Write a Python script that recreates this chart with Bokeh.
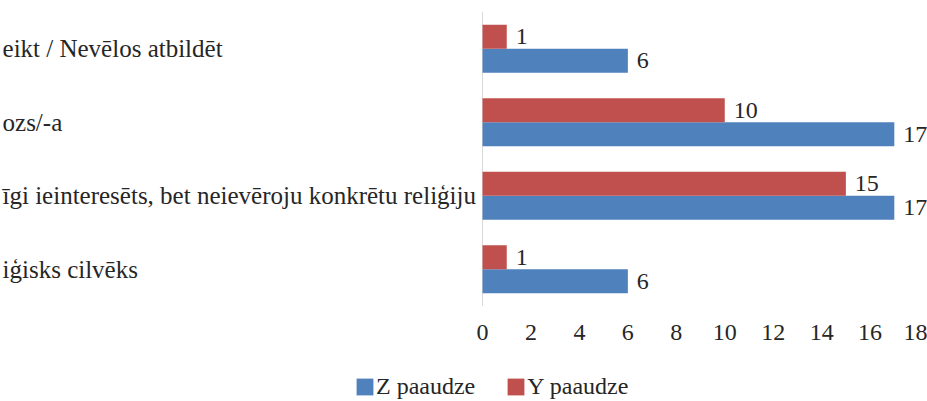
from bokeh.plotting import figure
from bokeh.layouts import column
from bokeh.models import ColumnDataSource, FactorRange, FixedTicker, Legend, LegendItem, LinearAxis, Range1d
from bokeh.transform import dodge
from bokeh.core.properties import value
from bokeh.embed import file_html
from bokeh.resources import INLINE

# Survey answers (bottom to top), as far as they are visible beside the bars
categories = [
    "iģisks cilvēks",
    "īgi ieinteresēts, bet neievēroju konkrētu reliģiju",
    "ozs/-a",
    "eikt / Nevēlos atbildēt",
]
z_counts = [6, 17, 17, 6]   # Z paaudze
y_counts = [1, 15, 10, 1]   # Y paaudze
x_ticks = [0, 2, 4, 6, 8, 10, 12, 14, 16, 18]
series_names = ["Z paaudze", "Y paaudze"]

FONT = "Liberation Serif"
BLUE = "#4F81BD"
RED = "#C0504D"
TEXT = "#262626"

src = ColumnDataSource(dict(
    cat=categories,
    z=z_counts,
    y=y_counts,
    z_lbl=[str(v) for v in z_counts],
    y_lbl=[str(v) for v in y_counts],
))

p = figure(
    width=927, frame_width=927, frame_height=317,
    x_range=Range1d(-19.9, 18.37),
    y_range=FactorRange(factors=categories, range_padding=0.155, range_padding_units="absolute"),
    output_backend="svg", toolbar_location=None,
    x_axis_location=None, y_axis_location=None,
    min_border=0, min_border_bottom=45, outline_line_color=None,
    background_fill_color="white", border_fill_color="white",
)
p.xgrid.visible = False
p.ygrid.visible = False

# value axis with ticks 0..18
xaxis = LinearAxis(ticker=FixedTicker(ticks=x_ticks))
xaxis.axis_line_color = None
xaxis.major_tick_line_color = None
xaxis.minor_tick_line_color = None
xaxis.major_tick_out = 0
xaxis.minor_tick_out = 0
xaxis.major_label_standoff = 7
xaxis.major_label_text_font = FONT
xaxis.major_label_text_font_size = "24px"
xaxis.major_label_text_color = TEXT
p.add_layout(xaxis, "below")

# thin category axis line at zero
line_src = ColumnDataSource(dict(lo=[categories[0]], hi=[categories[-1]]))
p.segment(x0=0, x1=0,
          y0=dodge("lo", -0.5, range=p.y_range), y1=dodge("hi", 0.5, range=p.y_range),
          source=line_src, line_color="#d9d9d9", line_width=1)

bh = 0.326
p.hbar(y=dodge("cat", -bh / 2, range=p.y_range), left=0, right="z", height=bh,
       source=src, fill_color=BLUE, line_color=None)
p.hbar(y=dodge("cat", bh / 2, range=p.y_range), left=0, right="y", height=bh,
       source=src, fill_color=RED, line_color=None)

# value labels beside the bar ends
for col, lbl, off in (("z", "z_lbl", -bh / 2), ("y", "y_lbl", bh / 2)):
    p.text(x=col, y=dodge("cat", off, range=p.y_range), text=lbl, source=src,
           x_offset=9, text_align="left", text_baseline="middle",
           text_font=value(FONT), text_font_size="24px", text_color=TEXT)

# category names, left aligned near the left edge
p.text(x=0, y="cat", text="cat", source=src, x_offset=-480,
       text_align="left", text_baseline="middle",
       text_font=value(FONT), text_font_size="25px", text_color=TEXT)

# legend strip underneath the chart; its key renderers hold a single zero-width bar
leg = figure(width=927, height=39, output_backend="svg", toolbar_location=None,
             x_range=Range1d(1, 2), y_range=Range1d(1, 2),
             x_axis_location=None, y_axis_location=None, min_border=0,
             outline_line_color=None, background_fill_color="white",
             border_fill_color="white")
leg.xgrid.visible = False
leg.ygrid.visible = False
key_src = ColumnDataSource(dict(y=[0], left=[0], right=[0]))
key_z = leg.hbar(y="y", left="left", right="right", height=1, source=key_src,
                 fill_color=BLUE, line_color=None)
key_y = leg.hbar(y="y", left="left", right="right", height=1, source=key_src,
                 fill_color=RED, line_color=None)
legend = Legend(items=[LegendItem(label=series_names[0], renderers=[key_z]),
                       LegendItem(label=series_names[1], renderers=[key_y])],
                orientation="horizontal", location=(354, 1),
                glyph_width=21, glyph_height=21, label_standoff=1, spacing=30,
                padding=4, margin=0, border_line_color=None, background_fill_alpha=0,
                label_text_font=FONT, label_text_font_size="24px", label_text_color=TEXT)
leg.add_layout(legend, "center")

open("out.html", "w").write(file_html(column(p, leg, spacing=0), INLINE))
